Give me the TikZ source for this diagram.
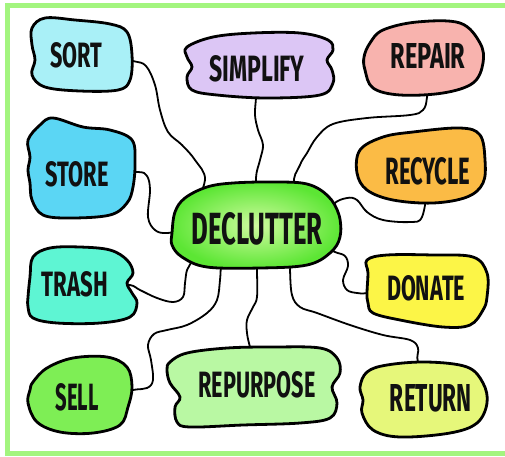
\documentclass[tikz,border=0pt]{standalone}
\usepackage{fontspec}
\setmainfont{Fira Sans}
\usepackage{graphicx}
\pgfdeclarelayer{lbg}
\pgfdeclarelayer{lconn}
\pgfdeclarelayer{lblob}
\pgfsetlayers{lbg,lconn,lblob,main}
\definecolor{framegreen}{HTML}{A3F57F}
\definecolor{ink}{HTML}{111111}
\definecolor{csort}{HTML}{A9F0F7}
\definecolor{csimplify}{HTML}{DCC6F5}
\definecolor{crepair}{HTML}{F8B3AE}
\definecolor{cstore}{HTML}{5BD6F4}
\definecolor{crecycle}{HTML}{FBBB45}
\definecolor{cdeclin}{HTML}{CFFB9F}
\definecolor{cdeclout}{HTML}{5CE634}
\definecolor{ctrash}{HTML}{5EF5D3}
\definecolor{cdonate}{HTML}{FCF547}
\definecolor{csell}{HTML}{7EEE55}
\definecolor{crepurpose}{HTML}{B9F8A3}
\definecolor{creturn}{HTML}{E6F77A}
\newcommand{\lab}[3]{\resizebox{#1pt}{#2pt}{\bfseries #3}}
\tikzset{
  conn/.style={line width=1.8pt, draw=black, line cap=round, line join=round},
  blob/.style={line width=2.8pt, draw=black, line join=round},
  lbl/.style={inner sep=0pt, text=ink},
}
\begin{document}
\begin{tikzpicture}[x=1pt,y=-1pt]
\useasboundingbox (0,0) rectangle (505,456);
% text nodes
\node[lbl] (sort) at (76,55) {\lab{52}{25}{SORT}};
\node[lbl] (simplify) at (257,69) {\lab{95}{26}{SIMPLIFY}};
\node[lbl] (repair) at (428,56) {\lab{75}{25}{REPAIR}};
\node[lbl] (store) at (77,174) {\lab{63}{25}{STORE}};
\node[lbl] (recycle) at (428,171) {\lab{85}{27}{RECYCLE}};
\node[lbl] (declutter) at (257,229) {\lab{131}{32}{DECLUTTER}};
\node[lbl] (trash) at (75,284) {\lab{66}{25}{TRASH}};
\node[lbl] (donate) at (426,288) {\lab{78}{25}{DONATE}};
\node[lbl] (sell) at (77,397) {\lab{43}{27}{SELL}};
\node[lbl] (repurpose) at (257,385) {\lab{117}{26}{REPURPOSE}};
\node[lbl] (return) at (431,398) {\lab{82}{27}{RETURN}};

\begin{pgfonlayer}{lbg}
\fill[white] (0,0) rectangle (505,456);
\fill[framegreen] (5,3) rectangle (505,8);
\fill[framegreen] (5,3) rectangle (10,456);
\fill[framegreen] (5,451) rectangle (505,456);
\end{pgfonlayer}

\begin{pgfonlayer}{lconn}
\draw[conn] plot[smooth, tension=0.6] coordinates {(sort.east) (133,61) (146,66) (155,85) (160,110) (168,132) (182,145) (195,160) (205,180) (declutter.north west)};
\draw[conn] plot[smooth, tension=0.6] coordinates {(simplify.south) (256,98) (255,115) (258,130) (263,145) (260,160) (256,178) (declutter.north)};
\draw[conn] plot[smooth, tension=0.6] coordinates {(repair.south) (427,97) (423,110) (410,115) (367,118) (333,124) (317,137) (307,153) (300,165) (295,185) (declutter.north east)};
\draw[conn] plot[smooth, tension=0.6] coordinates {(store.east) (138,172) (147,176) (150,190) (148,217) (155,230) (167,233) (declutter.west)};
\draw[conn] plot[smooth, tension=0.6] coordinates {(declutter.east) (333,205) (347,198) (357,200) (367,212) (383,220) (410,222) (422,217) (recycle.south)};
\draw[conn] plot[smooth, tension=0.6] coordinates {(trash.east) (130,285) (140,290) (157,298) (173,302) (183,297) (185,283) (187,270) (192,260) (declutter.south west)};
\draw[conn] plot[smooth, tension=0.6] coordinates {(declutter.south east) (335,252) (345,256) (348,266) (343,280) (347,290) (357,293) (367,293) (donate.west)};
\draw[conn] plot[smooth, tension=0.6] coordinates {(sell.east) (133,390) (147,388) (153,380) (151,360) (148,345) (154,334) (167,330) (187,325) (207,313) (217,300) (220,280) (221,265) (223,250) (declutter)};
\draw[conn] plot[smooth, tension=0.6] coordinates {(declutter) (257,255) (257,270) (257,297) (253,307) (247,320) (247,333) (250,347) (repurpose.north)};
\draw[conn] plot[smooth, tension=0.6] coordinates {(declutter) (290,255) (290,270) (292,295) (300,307) (317,313) (350,325) (383,335) (410,340) (418,348) (418,362) (return.north)};
\end{pgfonlayer}

\begin{pgfonlayer}{lblob}
% SORT
\path[blob, fill=csort] plot[smooth cycle, tension=0.6] coordinates {(32,28) (45,18) (75,20) (110,24) (127,32) (132,55) (130,80) (118,90) (80,91) (45,87) (32,75) (35,60) (32,45)};
% SIMPLIFY
\path[blob, fill=csimplify] plot[smooth cycle, tension=0.6] coordinates {(187,47) (213,37) (253,33) (300,33) (328,40) (333,50) (327,60) (332,70) (333,83) (320,95) (267,98) (217,95) (192,90) (187,77) (192,67) (187,57)};
% REPAIR
\path[blob, fill=crepair] plot[smooth cycle, tension=0.6] coordinates {(370,43) (383,30) (417,22) (460,23) (480,43) (483,63) (473,83) (443,93) (400,95) (373,88) (365,70) (364,57)};
% STORE
\path[blob, fill=cstore] plot[smooth cycle, tension=0.6] coordinates {(40,125) (53,118) (83,127) (110,130) (132,140) (135,163) (133,187) (127,203) (110,215) (70,218) (43,215) (32,200) (30,183) (28,170) (30,157) (28,140)};
% RECYCLE
\path[blob, fill=crecycle] plot[smooth cycle, tension=0.6] coordinates {(360,150) (383,137) (413,132) (460,128) (480,135) (485,160) (483,183) (467,197) (433,203) (393,200) (367,190) (357,173)};
% DECLUTTER
\path[blob, inner color=cdeclin, outer color=cdeclout] plot[smooth cycle, tension=0.6] coordinates {(172,233) (175,212) (185,198) (207,187) (233,183) (273,182) (307,184) (328,196) (339,215) (340,237) (330,253) (307,265) (260,268) (207,267) (182,257) (172,245)};
% TRASH
\path[blob, fill=ctrash] plot[smooth cycle, tension=0.6] coordinates {(33,257) (50,248) (80,247) (110,250) (127,260) (133,273) (127,283) (132,293) (137,303) (130,317) (100,323) (57,323) (33,318) (28,307) (28,297) (30,277)};
% DONATE
\path[blob, fill=cdonate] plot[smooth cycle, tension=0.6] coordinates {(367,260) (387,255) (433,255) (473,257) (487,273) (487,297) (483,310) (470,325) (443,327) (400,320) (373,313) (368,303) (367,293) (368,273)};
% SELL
\path[blob, fill=csell] plot[smooth cycle, tension=0.6] coordinates {(33,382) (47,368) (73,358) (107,357) (127,367) (132,387) (128,407) (120,425) (93,433) (60,432) (37,422) (28,403) (30,390)};
% REPURPOSE
\path[blob, fill=crepurpose] plot[smooth cycle, tension=0.6] coordinates {(170,362) (187,353) (227,348) (273,347) (320,348) (337,358) (340,373) (332,387) (337,403) (330,418) (300,423) (243,425) (190,427) (177,422) (175,407) (180,397) (170,383) (167,370)};
% RETURN
\path[blob, fill=creturn] plot[smooth cycle, tension=0.6] coordinates {(360,387) (367,372) (387,365) (427,362) (467,367) (483,383) (487,403) (477,423) (450,433) (400,437) (373,430) (362,413) (363,400)};
\end{pgfonlayer}
\end{tikzpicture}
\end{document}
